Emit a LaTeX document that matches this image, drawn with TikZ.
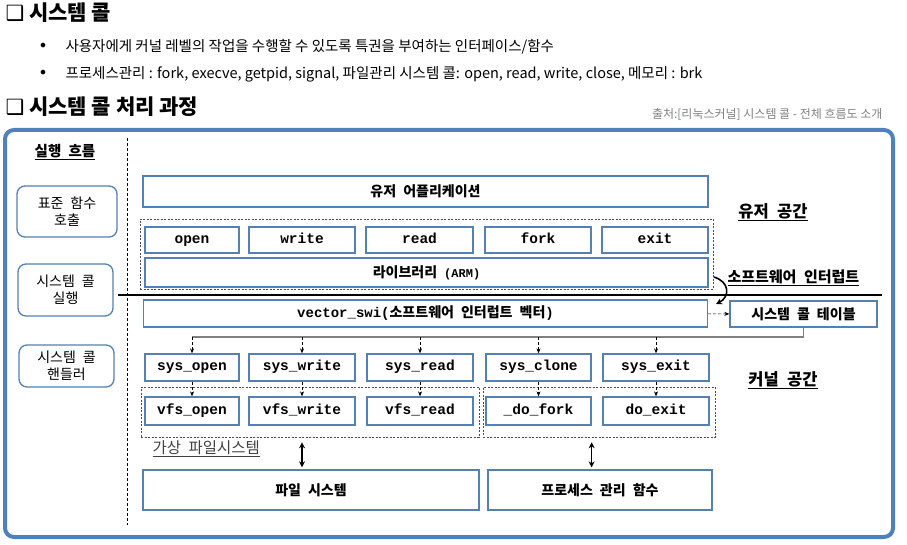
\documentclass[tikz,border=0pt]{standalone}
\usepackage{fontspec}
\setmainfont{Noto Sans CJK KR}
\newfontfamily\symfont{DejaVu Sans}
\newfontfamily\boxfont[WordSpace=2.2]{Noto Sans CJK KR}
\newfontfamily\codefont{Liberation Mono}
\usepackage{tikz}
\usetikzlibrary{positioning, arrows.meta, calc}

\definecolor{frameblue}{RGB}{79,129,189}
\definecolor{boxblue}{RGB}{84,128,178}
\definecolor{srcgray}{RGB}{128,128,128}

\tikzset{
  blk/.style={draw=boxblue, line width=1.3pt, fill=white, inner sep=0pt,
    font=\boxfont\bfseries\fontsize{14}{16}\selectfont},
  fn/.style={blk, text height=1.6ex, text depth=0.4ex,
    font=\codefont\bfseries\fontsize{14.5}{16}\selectfont},
  flowbox/.style={draw=boxblue, line width=1.3pt, rounded corners=8pt, align=center,
    font=\boxfont\fontsize{14}{17}\selectfont},
  grp/.style={draw=black!70, dash pattern=on 2pt off 1.5pt, line width=0.6pt, inner sep=0pt},
  tag/.style={font=\boxfont\bfseries\fontsize{16.5}{18}\selectfont},
  dasharrow/.style={densely dashed, line width=0.6pt, -{Stealth[length=5pt,width=4pt]}},
  bidir/.style={line width=1.6pt, {Stealth[length=6pt,width=6pt]}-{Stealth[length=6pt,width=6pt]}},
}

\begin{document}
\begin{tikzpicture}[x=1pt, y=-1pt]
    \useasboundingbox (0,0) rectangle (907,545);

    % Headings
    \node[anchor=west, font=\bfseries\fontsize{21}{22}\selectfont] (title) at (2,13) {{\symfont ❑} 시스템 콜};
    \node[font=\symfont\fontsize{16}{16}\selectfont] (dot1) at (43,47) {•};
    \node[anchor=west, font=\fontsize{14.5}{16}\selectfont] (line1) at (62,47) {사용자에게 커널 레벨의 작업을 수행할 수 있도록 특권을 부여하는 인터페이스/함수};
    \node[font=\symfont\fontsize{16}{16}\selectfont] (dot2) at (43,74) {•};
    \node[anchor=west, font=\fontsize{14.5}{16}\selectfont] (line2) at (62,74) {프로세스관리 : fork, execve, getpid, signal, 파일관리 시스템 콜: open, read, write, close, 메모리 : brk};
    \node[anchor=west, font=\bfseries\fontsize{21}{22}\selectfont] (title2) at (2,107) {{\symfont ❑} 시스템 콜 처리 과정};
    \node[anchor=east, text=srcgray, font=\fontsize{12}{13}\selectfont] (src) at (886,115) {출처:[리눅스커널] 시스템 콜 - 전체 흐름도 소개};

    % Frame
    \draw[frameblue, line width=4pt, rounded corners=9pt] (5,130) rectangle (893,537);
    \draw[dash pattern=on 3pt off 2pt, line width=0.6pt] (127,138) -- (127,525);

    % Execution flow
    \node[font=\boxfont\bfseries\fontsize{14.5}{16}\selectfont] (flow) at (65,152) {\underline{실행 흐름}};
    \node[flowbox, minimum width=100pt, minimum height=51pt] (stdcall) at (67,211.5) {표준 함수\\호출};
    \node[flowbox, minimum width=95pt, minimum height=52pt] (syscall) at (65.5,290) {시스템 콜\\실행};
    \node[flowbox, minimum width=95pt, minimum height=42pt] (handler) at (66.5,366) {시스템 콜\\핸들러};

    % Groups
    \node[grp, minimum width=573pt, minimum height=70pt] (libgrp) at (426.5,254) {};
    \node[grp, minimum width=338pt, minimum height=50pt] (vfsgrp) at (310,412) {};
    \node[grp, minimum width=232pt, minimum height=50pt] (procgrp) at (599,412) {};

    % User space
    \node[blk, minimum width=565pt, minimum height=31pt] (app) at (425.5,191.5) {유저 어플리케이션};
    \foreach \x/\w/\t in {192/94/open, 302/106/write, 419.5/107/read, 538/106/fork, 655/106/exit}
      \node[fn, minimum width=\w pt, minimum height=26pt] (\t) at (\x,240) {\t};
    \node[blk, minimum width=563pt, minimum height=29pt] (lib) at (426.5,272.5) {라이브러리 {\codefont\fontsize{12}{13}\selectfont(ARM)}};
    \node[tag] (userspace) at (773,212) {\underline{유저 공간}};

    % Boundary
    \coordinate (lineL) at (118,295);
    \coordinate (lineR) at (882,295);
    \draw[line width=1.6pt] (lineL) -- (lineR);
    \node[anchor=west, font=\boxfont\bfseries\fontsize{15}{17}\selectfont] (swint) at (724,278) {\underline{소프트웨어 인터럽트}};
    \coordinate (trapA) at (714,277);
    \coordinate (trapB) at (716,304);
    \draw[line width=1.6pt, -{Stealth[length=6pt,width=6pt]}] (trapA) .. controls (730,282) and (730,297) .. (trapB);

    % Kernel space
    \node[blk, minimum width=564pt, minimum height=27pt] (swi) at (425.5,313.5) {{\codefont vector\_swi(}소프트웨어 인터럽트 벡터{\codefont )}};
    \node[blk, minimum width=147pt, minimum height=26pt] (table) at (803.5,314) {시스템 콜 테이블};
    \draw[dasharrow] (swi) -- (table);
    \node[tag] (kernelspace) at (783,380) {\underline{커널 공간}};

    \foreach \x/\w/\t/\n in {192/94/sys\_open/sysopen, 302/106/sys\_write/syswrite, 420/106/sys\_read/sysread, 538.5/105/sys\_clone/sysclone, 656/106/sys\_exit/sysexit}
      \node[fn, minimum width=\w pt, minimum height=27pt] (\n) at (\x,367.5) {\t};
    \foreach \x/\w/\t/\n in {192/94/vfs\_open/vfsopen, 302/106/vfs\_write/vfswrite, 420/106/vfs\_read/vfsread, 538.5/105/\_do\_fork/dofork, 656/106/do\_exit/doexit}
      \node[fn, minimum width=\w pt, minimum height=28pt] (\n) at (\x,411) {\t};

    % Dispatch
    \coordinate (bus) at (192,337);
    \draw[srcgray, line width=1.3pt] (table.south) |- (bus);
    \foreach \n in {sysopen, syswrite, sysread, sysclone, sysexit}
      \draw[dasharrow] (\n.north |- bus) -- (\n.north);
    \foreach \a/\b in {sysopen/vfsopen, syswrite/vfswrite, sysread/vfsread, sysclone/dofork, sysexit/doexit}
      \draw[dasharrow] (\a) -- (\b);

    % Lower layer
    \node[anchor=west, text=black!75, font=\boxfont\fontsize{15.5}{17}\selectfont] (vfslabel) at (149,449) {\underline{가상 파일시스템}};
    \node[blk, minimum width=336pt, minimum height=40pt] (fs) at (311,490) {파일 시스템};
    \node[blk, minimum width=224pt, minimum height=40pt] (proc) at (600,490) {프로세스 관리 함수};
    \draw[bidir, shorten <=5pt, shorten >=2pt] (vfsgrp.south -| vfswrite) -- (fs.north -| vfswrite);
    \draw[bidir, shorten <=5pt, shorten >=2pt] (procgrp.south -| dofork.east) -- (proc.north -| dofork.east);
  \end{tikzpicture}
\end{document}
